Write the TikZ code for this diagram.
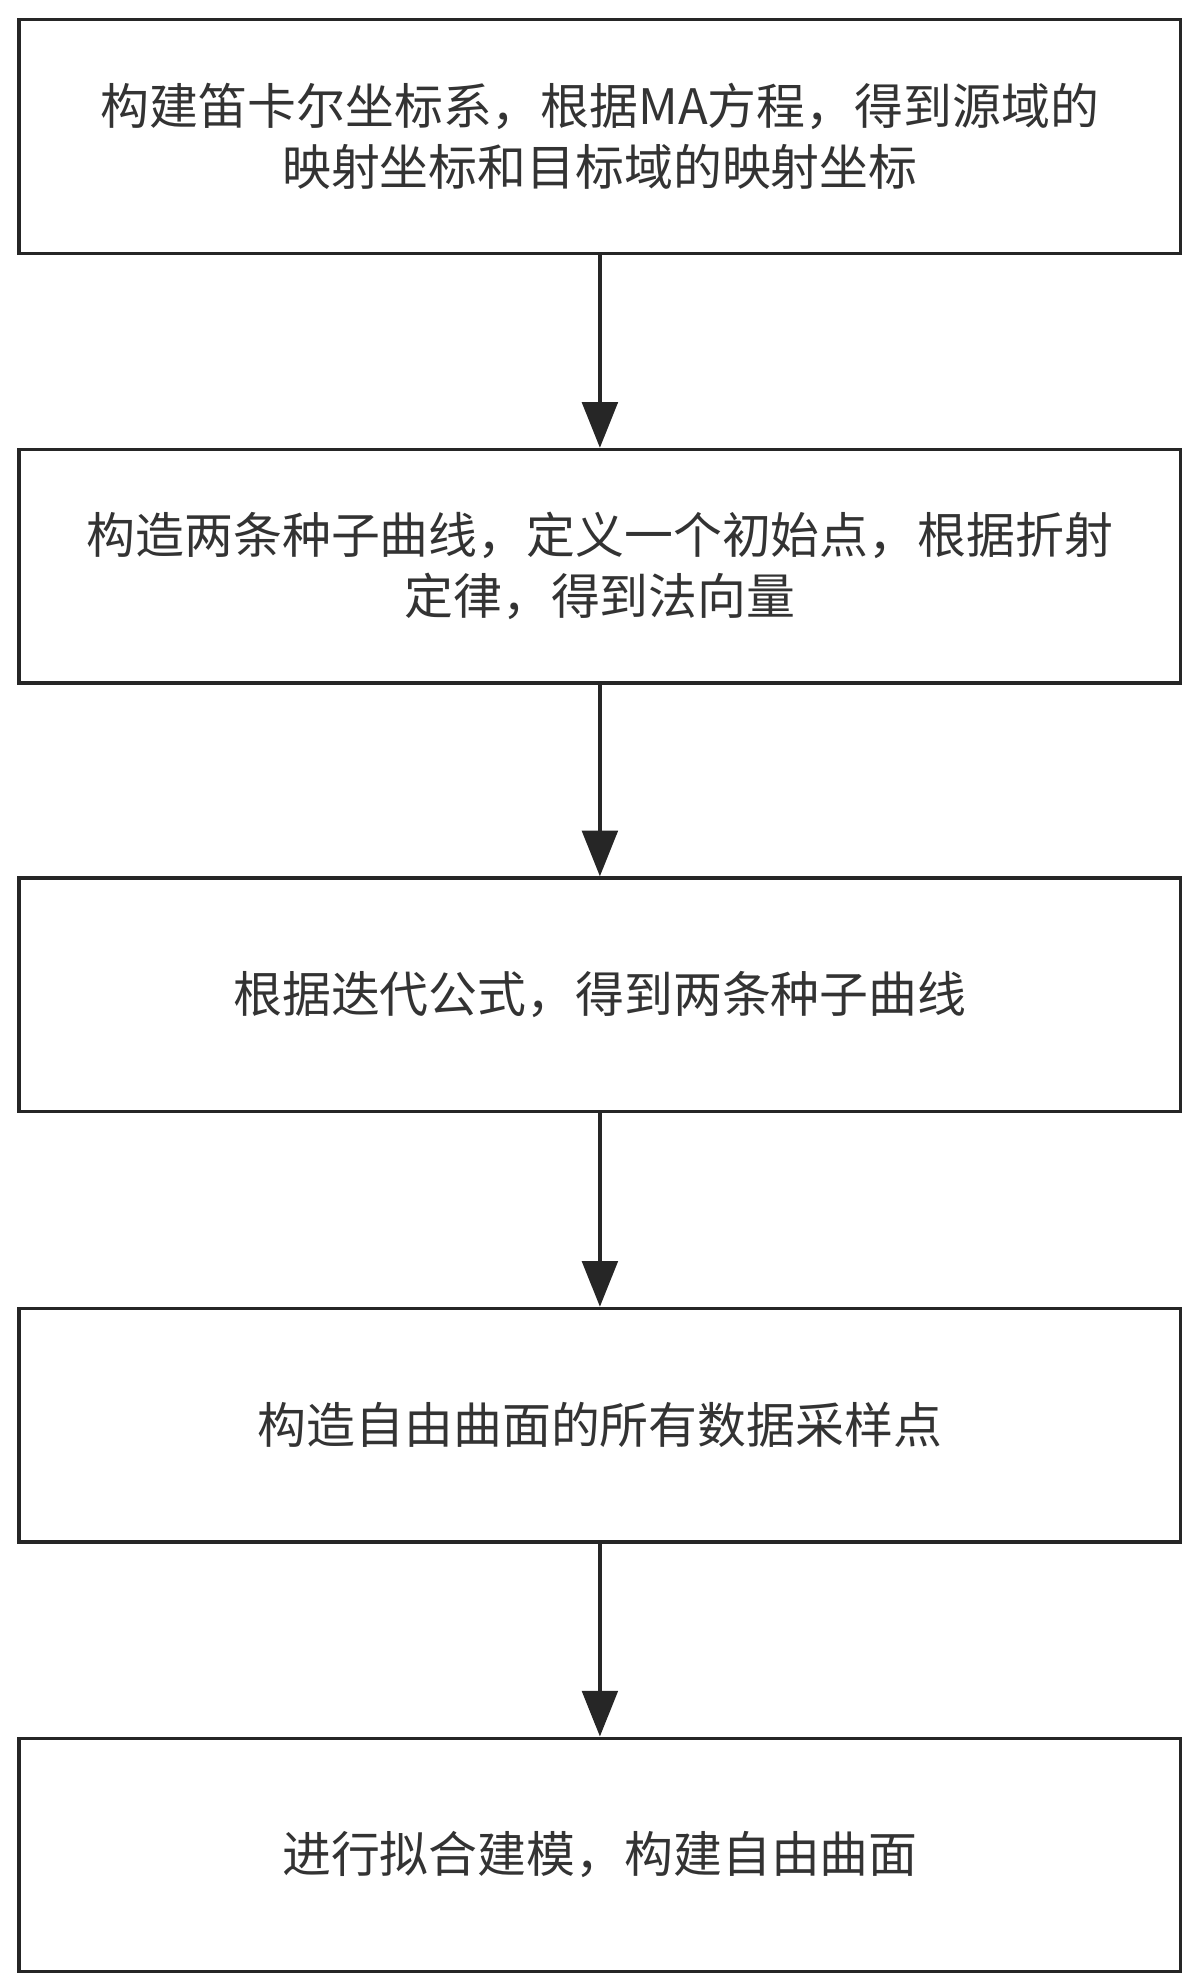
\documentclass[tikz,border=0pt]{standalone}
\usepackage{fontspec}
\setmainfont{Noto Sans CJK SC}
\usetikzlibrary{arrows.meta}
\begin{document}
\begin{tikzpicture}[x=1pt,y=-1pt,
  stepbox/.style={draw=black!85,line width=2.6pt,minimum width=915pt,minimum height=184pt,align=center,font=\fontsize{38.5}{48}\selectfont,text=black!80,inner sep=0pt},
  conn/.style={draw=black!85,line width=3pt,-{Triangle[length=36pt,width=28pt]}}]
\useasboundingbox (0,0) rectangle (945,1565);
\node[stepbox] (a) at (472.5,107.5) {构建笛卡尔坐标系，根据MA方程，得到源域的\\映射坐标和目标域的映射坐标};
\node[stepbox] (b) at (472.5,446) {构造两条种子曲线，定义一个初始点，根据折射\\定律，得到法向量};
\node[stepbox] (c) at (472.5,783.5) {根据迭代公式，得到两条种子曲线};
\node[stepbox] (d) at (472.5,1122.5) {构造自由曲面的所有数据采样点};
\node[stepbox] (e) at (472.5,1461) {进行拟合建模，构建自由曲面};
\draw[conn] (a) -- (b);
\draw[conn] (b) -- (c);
\draw[conn] (c) -- (d);
\draw[conn] (d) -- (e);
\end{tikzpicture}
\end{document}
